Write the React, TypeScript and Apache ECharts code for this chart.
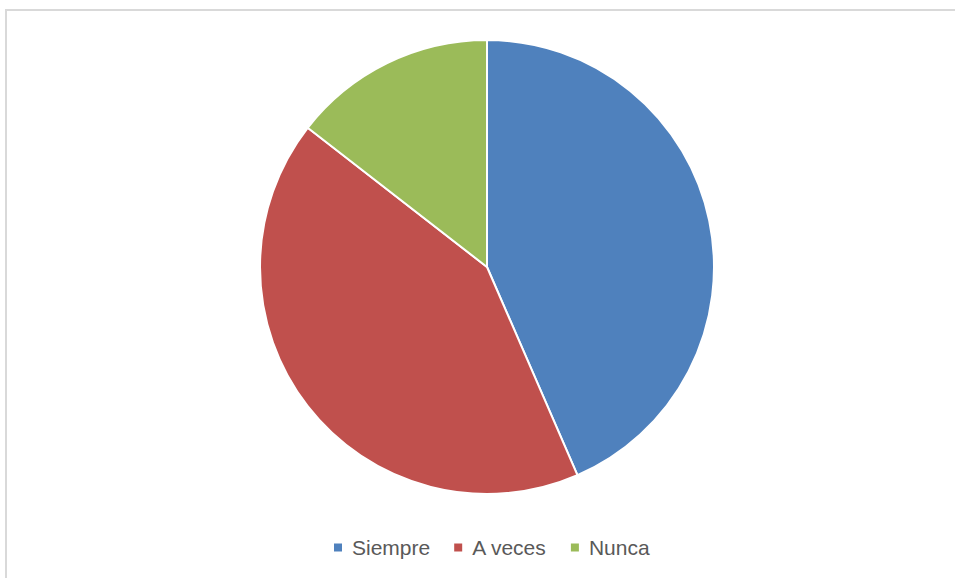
import React, { useEffect, useRef } from "react";
import * as echarts from "echarts";

const categories = ["Siempre", "A veces", "Nunca"];
const values = [30, 29, 10];
const colors = ["#4F81BD", "#C0504D", "#9BBB59"];

export default function App() {
  const ref = useRef<HTMLDivElement>(null);
  useEffect(() => {
    if (!ref.current) return;
    const chart = echarts.init(ref.current, undefined, { renderer: "svg" });
    chart.setOption({
      animation: false,
      backgroundColor: "#ffffff",
      color: colors,
      graphic: [
        {
          type: "rect",
          shape: { x: 6, y: 10, width: 1000, height: 1000 },
          style: { fill: "none", stroke: "#d9d9d9", lineWidth: 2 },
          silent: true,
        },
      ],
      legend: {
        data: categories,
        left: 332,
        top: 537,
        padding: 0,
        itemWidth: 10,
        itemHeight: 10,
        itemGap: 22,
        icon: "rect",
        textStyle: {
          fontFamily: "Liberation Sans",
          fontSize: 21,
          color: "#595959",
          padding: [0, 0, 0, 4],
        },
      },
      series: [
        {
          type: "pie",
          center: [487, 267],
          radius: 227,
          startAngle: 90,
          clockwise: true,
          label: { show: false },
          labelLine: { show: false },
          emphasis: { disabled: true },
          itemStyle: { borderColor: "#ffffff", borderWidth: 2 },
          data: categories.map((name, i) => ({ name, value: values[i] })),
        },
      ],
    });
    return () => chart.dispose();
  }, []);
  return (
    <div
      ref={ref}
      style={{ position: "fixed", left: 0, top: 0, width: 955, height: 578 }}
    />
  );
}
